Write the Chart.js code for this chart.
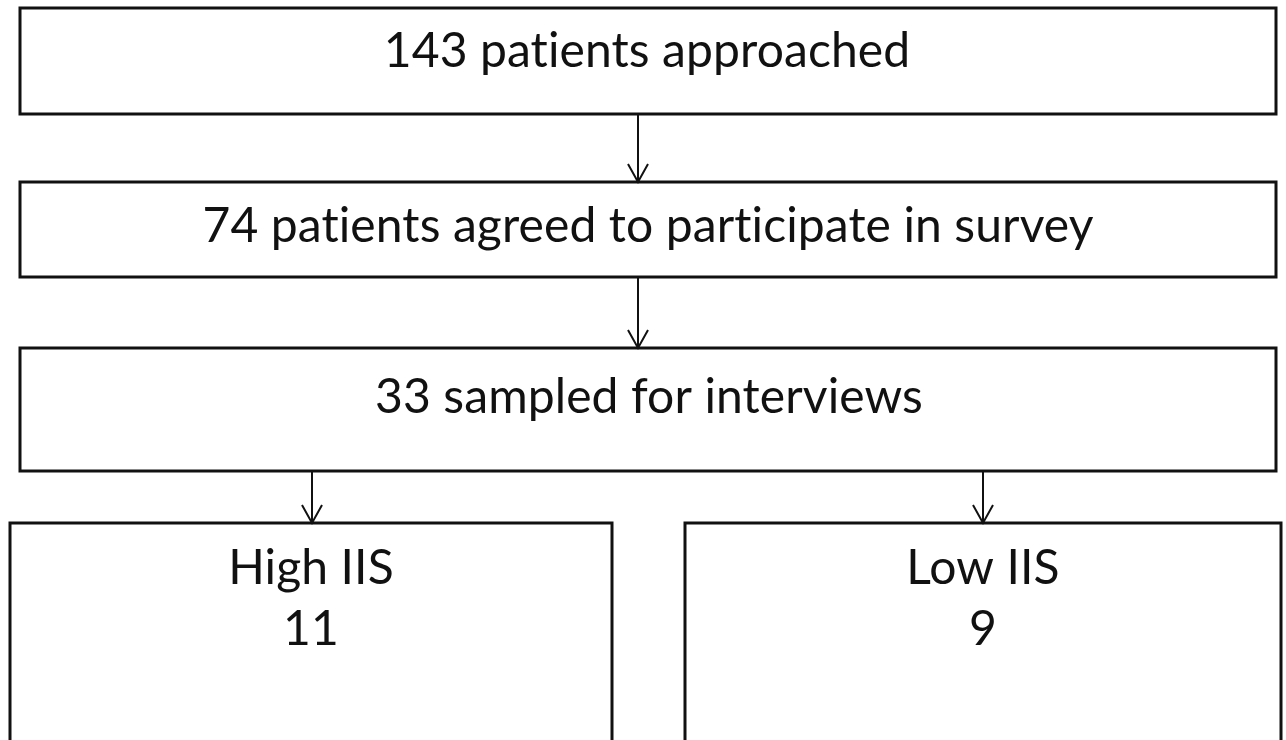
<!DOCTYPE html>
<html><head><meta charset="utf-8">
<script src="https://cdn.jsdelivr.net/npm/chart.js@4"></script>
<style>html,body{margin:0;padding:0;background:#fff;}#wrap{width:1286px;height:740px;}</style>
</head><body><div id="wrap"><canvas id="c"></canvas></div>
<script>
// Flowchart content
const stageLabels = ["patients approached", "patients agreed to participate in survey", "sampled for interviews", "High IIS", "Low IIS"];
const stageCounts = [143, 74, 33, 11, 9];
const links = [[0,1],[1,2],[2,3],[2,4]];

// layout (in scale units = px)
const boxes = [
  {x0:20,x1:1276,y0:8,y1:114, ty:[52], cx:647},
  {x0:20,x1:1276,y0:182,y1:277, ty:[227], cx:648},
  {x0:20,x1:1276,y0:348,y1:471, ty:[398], cx:649},
  {x0:10,x1:612,y0:523,y1:760, ty:[569,630], cx:311},
  {x0:685,x1:1281,y0:523,y1:760, ty:[569,630], cx:983}
];
const arrowX = [638, 638, 312, 983];

function boxText(i){
  if (i<3) return [stageCounts[i] + " " + stageLabels[i]];
  return [stageLabels[i], String(stageCounts[i])];
}

const flowPlugin = {
  id:'flow',
  afterDraw(chart){
    const ctx = chart.ctx, xs = chart.scales.x, ys = chart.scales.y;
    const X = v=>xs.getPixelForValue(v), Y = v=>ys.getPixelForValue(v);
    ctx.save();
    ctx.strokeStyle = '#111';
    ctx.lineWidth = 3;
    boxes.forEach((b,i)=>{
      ctx.strokeRect(X(b.x0), Y(b.y0), X(b.x1)-X(b.x0), Y(b.y1)-Y(b.y0));
    });
    ctx.fillStyle = '#111';
    ctx.textAlign = 'center';
    ctx.textBaseline = 'middle';
    ctx.font = '48px Lato, sans-serif';
    if ('letterSpacing' in ctx) ctx.letterSpacing = '0.1px';
    boxes.forEach((b,i)=>{
      boxText(i).forEach((t,k)=>{ ctx.fillText(t, X(b.cx), Y(b.ty[k])); });
    });
    ctx.lineWidth = 2;
    links.forEach(([a,bI],k)=>{
      const x = X(arrowX[k]), y0 = Y(boxes[a].y1), y1 = Y(boxes[bI].y0);
      ctx.beginPath(); ctx.moveTo(x,y0); ctx.lineTo(x,y1); ctx.stroke();
      ctx.beginPath(); ctx.moveTo(x-10,y1-18); ctx.lineTo(x,y1); ctx.lineTo(x+10,y1-18); ctx.stroke();
    });
    ctx.restore();
  }
};

new Chart(document.getElementById('c'), {
  type:'scatter',
  data:{datasets:[{data:[]}]},
  options:{
    responsive:true, maintainAspectRatio:false, animation:false,
    layout:{padding:0},
    plugins:{legend:{display:false}, tooltip:{enabled:false}},
    scales:{
      x:{type:'linear', min:0, max:1286, display:false},
      y:{type:'linear', min:0, max:740, reverse:true, display:false}
    }
  },
  plugins:[flowPlugin]
});
</script></body></html>
